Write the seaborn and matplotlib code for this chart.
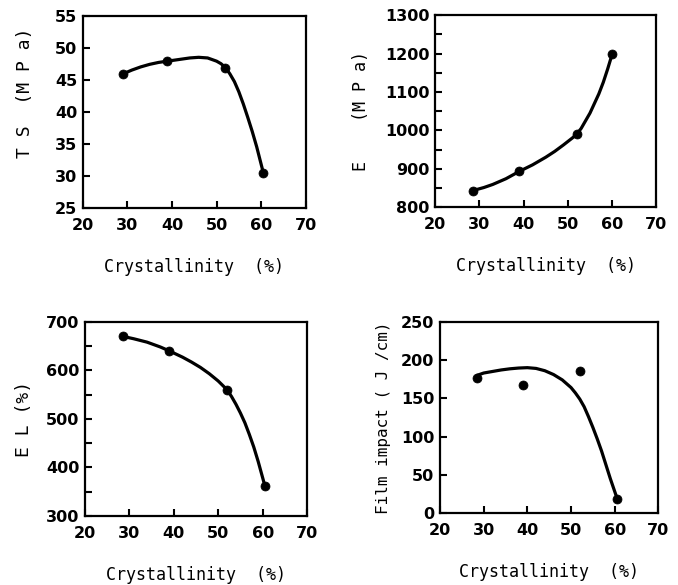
import numpy as np
import pandas as pd
import seaborn as sns
import matplotlib.pyplot as plt
from matplotlib.ticker import MultipleLocator

# Measured points (crystallinity %, property)
ts_x = [29, 39, 52, 60.5]
ts_y = [46, 48, 47, 30.5]
e_x = [28.5, 39, 52, 60]
e_y = [843, 893, 990, 1198]
el_x = [28.5, 39, 52, 60.5]
el_y = [670, 640, 560, 362]
fi_x = [28.5, 39, 52, 60.5]
fi_y = [177, 167, 186, 19]

# Hand-drawn trend curves
ts_curve_x = [29, 31, 33, 35, 37, 39, 42, 44, 46, 48, 50, 51, 52, 53, 54, 55, 56, 57, 58, 59, 60.5]
ts_curve_y = [46, 46.6, 47.1, 47.5, 47.8, 48, 48.3, 48.5, 48.6, 48.5, 48, 47.6, 47, 46, 44.8, 43.2, 41.3, 39.2, 37, 34.6, 30.5]
e_curve_x = [28.5, 31, 33, 36, 39, 42, 45, 47, 49, 51, 52, 53, 55, 57, 58, 59, 60]
e_curve_y = [843, 851, 859, 874, 893, 910, 930, 945, 962, 980, 990, 1005, 1045, 1095, 1125, 1160, 1198]
el_curve_x = [28.5, 31, 34, 37, 39, 42, 44, 46, 48, 50, 52, 53, 54, 55, 56, 57, 58, 59, 60.5]
el_curve_y = [670, 665, 658, 648, 640, 627, 617, 606, 593, 578, 560, 546, 530, 512, 492, 468, 442, 412, 362]
fi_curve_x = [28.5, 30, 32, 34, 36, 38, 40, 42, 44, 46, 48, 50, 51, 52, 53, 54, 55, 56, 57, 58, 59, 60.5]
fi_curve_y = [180, 183, 185, 187, 188.5, 189.5, 190, 189, 186, 181, 174, 164, 157, 149, 139, 126, 112, 97, 81, 63, 45, 20]

panels = [
    dict(x=ts_x, y=ts_y, cx=ts_curve_x, cy=ts_curve_y, ylim=(25, 55), major=5, minor=None,
         ylabel="T S  (M P a)", ysize=13, ypad=15, ypos=0.6, rect=[0.122, 0.644, 0.329, 0.328]),
    dict(x=e_x, y=e_y, cx=e_curve_x, cy=e_curve_y, ylim=(800, 1300), major=100, minor=50,
         ylabel="E    (M P a)", ysize=12, ypad=11, ypos=0.5, rect=[0.642, 0.646, 0.326, 0.328]),
    dict(x=el_x, y=el_y, cx=el_curve_x, cy=el_curve_y, ylim=(300, 700), major=100, minor=50,
         ylabel="E L (%)", ysize=13, ypad=9, ypos=0.5, rect=[0.125, 0.118, 0.328, 0.332]),
    dict(x=fi_x, y=fi_y, cx=fi_curve_x, cy=fi_curve_y, ylim=(0, 250), major=50, minor=None,
         ylabel="Film impact ( J /cm)", ysize=11.5, ypad=7, ypos=0.5, rect=[0.649, 0.123, 0.322, 0.327]),
]

sns.set_theme(style="ticks")
plt.rcParams['font.family'] = ['DejaVu Sans']

fig = plt.figure(figsize=(6.78, 5.85), dpi=100)

for p in panels:
    ax = fig.add_axes(p["rect"])
    curve = pd.DataFrame({"x": p["cx"], "y": p["cy"]})
    pts = pd.DataFrame({"x": p["x"], "y": p["y"]})
    sns.lineplot(data=curve, x="x", y="y", ax=ax, color="black", linewidth=2.3, sort=False)
    sns.scatterplot(data=pts, x="x", y="y", ax=ax, color="black", s=42, edgecolor="black", zorder=5)
    ax.set_xlim(20, 70)
    ax.set_ylim(*p["ylim"])
    ax.xaxis.set_major_locator(MultipleLocator(10))
    ax.yaxis.set_major_locator(MultipleLocator(p["major"]))
    if p["minor"]:
        ax.yaxis.set_minor_locator(MultipleLocator(p["minor"]))
    ax.tick_params(which="both", direction="in", length=5, width=1.5, labelsize=11.5,
                   color="black", labelcolor="black")
    ax.tick_params(axis="x", pad=7)
    ax.tick_params(axis="y", pad=4)
    for lab in ax.get_xticklabels() + ax.get_yticklabels():
        lab.set_fontweight("bold")
    for s in ax.spines.values():
        s.set_linewidth(1.6)
        s.set_color("black")
    ax.set_xlabel("Crystallinity  (%)", family="DejaVu Sans Mono", fontsize=12, labelpad=18, color="black")
    ax.set_ylabel(p["ylabel"], family="DejaVu Sans Mono", fontsize=p["ysize"], labelpad=p["ypad"], color="black")
    ax.yaxis.label.set_y(p["ypos"])

fig.savefig("out.png", dpi=100, facecolor="white")
